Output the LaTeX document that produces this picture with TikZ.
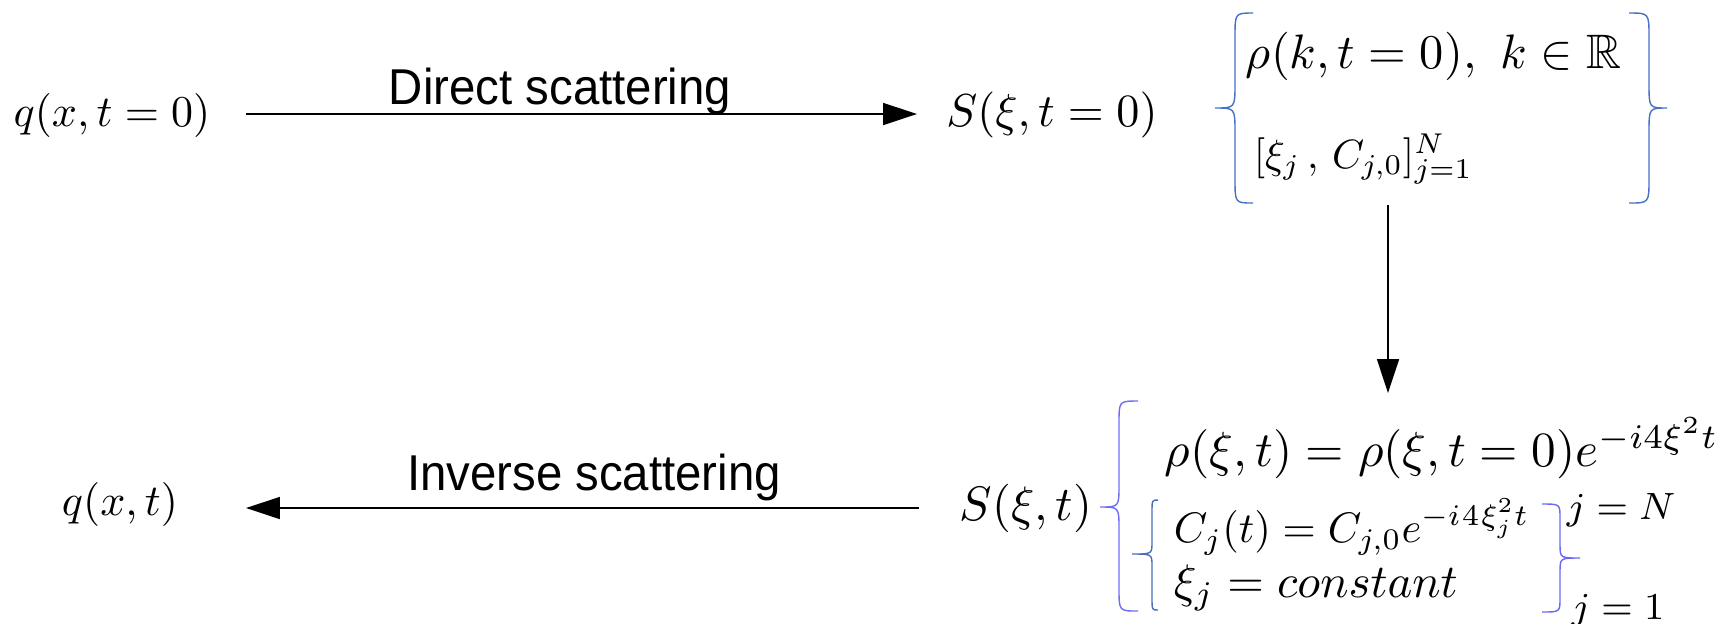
\documentclass[tikz,border=0pt]{standalone}
\usepackage{amssymb}
\usepackage{fontspec}
\newfontfamily\lib{Liberation Sans}
\usetikzlibrary{arrows.meta}
\definecolor{topbrace}{HTML}{4472C4}
\definecolor{bigbrace}{HTML}{6E6EF5}
\definecolor{innerbrace}{HTML}{4A6FB5}
\definecolor{rightbrace}{HTML}{6A6AF0}
\newcommand{\lbracepath}[8]{% color, xe, xv, xt, yt, ym, yb, r
  \draw[bracestyle,#1] (#2,#5) .. controls (#3,#5) .. (#3,{#5+#8}) -- (#3,{#6-#8})
    .. controls (#3,#6) .. (#4,#6) .. controls (#3,#6) .. (#3,{#6+#8})
    -- (#3,{#7-#8}) .. controls (#3,#7) .. (#2,#7);}
\begin{document}
\begin{tikzpicture}[x=0.2273pt,y=-0.2273pt,
  mathlbl/.style={font=\normalsize, inner sep=0pt},
  smalllbl/.style={font=\footnotesize, inner sep=0pt, scale=1.08},
  textlbl/.style={font=\lib\fontsize{11.45}{14}\selectfont, inner sep=0pt, anchor=base},
  conn/.style={line width=0.32pt, -{Triangle[length=7.7pt,width=5pt]}},
  bracestyle/.style={line width=0.32pt}]
\useasboundingbox (0,0) rectangle (1719,623);
% top row
\node[mathlbl] (q0) at (112,115) {$q(x,t=0)$};
\node[mathlbl, scale=1.05] (S0) at (1052,115) {$S(\xi,t=0)$};
\node[textlbl] (ds) at (560,104) {\scalebox{0.94}[1]{Direct scattering}};
\coordinate (a1s) at (246,114);
\coordinate (a1e) at (917,114);
\draw[conn] (a1s) -- (a1e);
% top brace group
\node[mathlbl, anchor=base west, scale=1.1] (rho0) at (1245,68) {$\rho(k,t=0),\ k\in\mathbb{R}$};
\node[mathlbl, anchor=base west, scale=0.93] (xiC0) at (1253,168) {$[\xi_j\,,\,C_{j,0}]_{j=1}^{N}$};
\lbracepath{topbrace}{1253}{1235}{1215}{13}{108}{203}{24}
\lbracepath{topbrace}{1629}{1649}{1667}{13}{108}{203}{24}
% vertical arrow
\coordinate (vtop) at (1388,205);
\coordinate (vbot) at (1388,393);
\draw[conn] (vtop) -- (vbot);
% bottom row
\node[mathlbl] (qt) at (120,504) {$q(x,t)$};
\node[mathlbl, scale=1.1] (St) at (1026,508) {$S(\xi,t)$};
\node[textlbl] (is) at (594,490) {\scalebox{0.94}[1]{Inverse scattering}};
\coordinate (a2s) at (919,508);
\coordinate (a2e) at (246,508);
\draw[conn] (a2s) -- (a2e);
% bottom brace group
\node[mathlbl, anchor=west, scale=1.12] (rhot) at (1164,448) {$\rho(\xi,t)=\rho(\xi,t=0)e^{-i4\xi^2t}$};
\node[mathlbl, anchor=west, scale=0.97] (Cj) at (1173,527) {$C_j(t)=C_{j,0}e^{-i\mkern1mu4\mkern1mu\xi_j^2t}$};
\node[mathlbl, anchor=west, scale=1.07] (xij) at (1173,588) {$\xi_j=constant$};
\node[smalllbl] (jN) at (1621,510) {$j=N$};
\node[smalllbl] (j1) at (1618,611) {$j=1$};
\lbracepath{bigbrace}{1138}{1119}{1100}{401}{507}{611}{22}
\lbracepath{innerbrace}{1158}{1152}{1132}{500}{554}{610}{12}
\lbracepath{rightbrace}{1542}{1560}{1580}{504}{558}{612}{14}
\end{tikzpicture}
\end{document}
